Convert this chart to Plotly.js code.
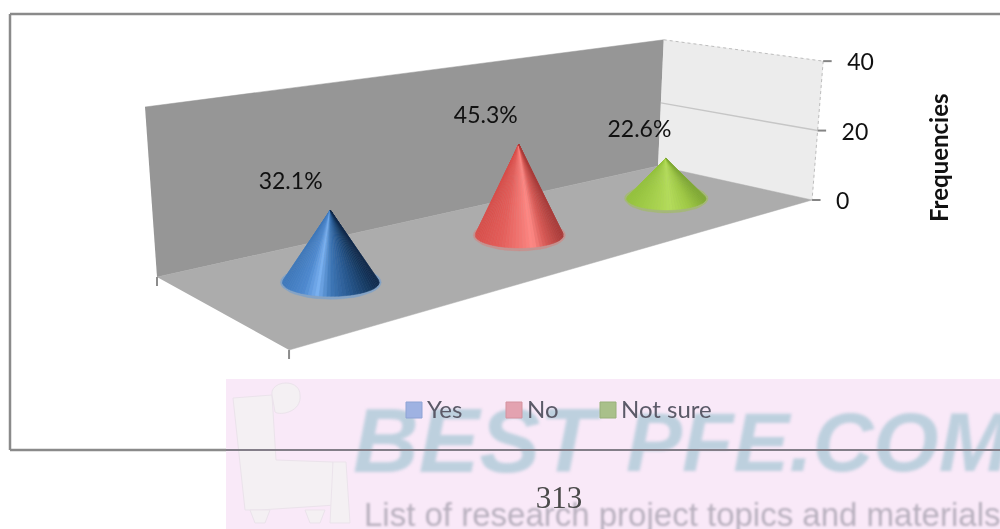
<!DOCTYPE html>
<html><head><meta charset="utf-8">
<script src="https://cdn.plot.ly/plotly-3.0.1.min.js"></script>
<style>html,body{margin:0;padding:0;background:#fff;overflow:hidden}#c{width:1000px;height:529px}</style>
</head><body><div id="c"></div>
<script>
// ---- data ----
const categories = ['Yes', 'No', 'Not sure'];
const frequencies = [17, 24, 12];
const percentLabels = ['32.1%', '45.3%', '22.6%'];
const axisTicks = [0, 20, 40];
const axisTitle = 'Frequencies';
const axisMax = 40;

// ---- styles ----
const FONT = 'Lato, "Open Sans", sans-serif';
const coneStops = [
  [[0,'#3f78ba'],[.22,'#4f8ad0'],[.36,'#79b0f0'],[.5,'#3f78b8'],[.72,'#27568c'],[.9,'#173a62'],[1,'#10294a']],
  [[0,'#d8504c'],[.3,'#e4605c'],[.55,'#f47a76'],[.66,'#ff8a86'],[.8,'#d85a56'],[1,'#a83a38']],
  [[0,'#94c23c'],[.35,'#a8d24e'],[.55,'#b4dc5c'],[.8,'#9ec844'],[1,'#7fa834']]
];
const haloColors = ['rgba(120,160,205,.75)','rgba(215,130,125,.55)','rgba(160,190,90,.6)'];
const legendFill = ['#9fb2e2','#e3a2b0','#a9c08a'];
const legendEdge = ['#8ea3d4','#d4929f','#98b07a'];

// ---- floor perspective fitted to the drawn 3D box: u along categories, w in depth ----
const P = {a:776.2,b:84.3,c:157,d:-41.6,e:15.2,f:277,g:.4182,h:-.1652};
function project(u,w,z){
  const q = P.g*u + P.h*w + 1;
  const x = (P.a*u + P.b*w + P.c)/q, y = (P.d*u + P.e*w + P.f)/q;
  const H = (170 + u*(9-5*w))/q;
  const lean = -12 + (x-157)*.0353;
  const t = z/axisMax;
  return [x + lean*t, y - H*t];
}
function hexMix(stops,t){
  for(let i=1;i<stops.length;i++){
    if(t<=stops[i][0]){
      const [t0,c0]=stops[i-1],[t1,c1]=stops[i];
      const k=(t-t0)/(t1-t0), n=s=>[1,3,5].map(j=>parseInt(s.substr(j,2),16));
      const a=n(c0),b=n(c1);
      return 'rgb('+a.map((v,j)=>Math.round(v+(b[j]-v)*k)).join(',')+')';
    }
  }
  return stops[stops.length-1][1];
}
const traces = [];
function poly(pts,color,line){
  traces.push({type:'scatter',mode:'lines',x:pts.map(p=>p[0]),y:pts.map(p=>p[1]),fill:'toself',fillcolor:color,
    line:line||{color:color,width:.5},hoverinfo:'skip',showlegend:false,cliponaxis:false});
}
function seg(a,b,color,width,dash){
  traces.push({type:'scatter',mode:'lines',x:[a[0],b[0]],y:[a[1],b[1]],line:{color:color,width:width,dash:dash||'solid'},
    hoverinfo:'skip',showlegend:false,cliponaxis:false});
}
function label(x,y,text,size,color,family,pos,extra){
  traces.push(Object.assign({type:'scatter',mode:'text',x:[x],y:[y],text:[text],textposition:pos||'middle center',
    textfont:{size:size,color:color,family:family||FONT},hoverinfo:'skip',showlegend:false,cliponaxis:false},extra||{}));
}

// walls and floor
poly([project(0,0,0),project(1,0,0),project(1,0,axisMax),project(0,0,axisMax)],'#969696');
poly([project(1,0,0),project(1,1,0),project(1,1,axisMax),project(1,0,axisMax)],'#ececec');
poly([project(0,0,0),project(1,0,0),project(1,1,0),project(0,1,0)],'#acacac');
seg(project(1,0,axisMax),project(1,1,axisMax),'#bdbdbd',1,'dot');
seg(project(1,1,axisMax),project(1,1,0),'#bdbdbd',1,'dot');
seg(project(1,0,20),project(1,1,20),'#c6c6c6',1.5);

// axis ticks and labels
axisTicks.forEach(v=>{
  const p=project(1,1,v);
  seg(p,[p[0]+8.5,p[1]],'#858585',2);
  label(p[0]+24,p[1]+3.5,String(v),23,'#111',FONT,'middle right');
});
// floor ticks
[[0,0],[0,1]].forEach(c=>{
  const p=project(c[0],c[1],0);
  seg(p,[p[0],p[1]+9],'#8c8c8c',2);
});

// cones
categories.forEach((cat,i)=>{
  const u=(i+.5)/categories.length;
  const b0=project(u,.5,0), tip=project(u,.5,frequencies[i]);
  const c=[b0[0]-2,b0[1]+1], apex=[b0[0]-2.5,tip[1]+2.5];
  const rx=50.5-13*u, ry=rx*.29;
  const halo=[];
  for(let k=0;k<=40;k++){const a=k/40*2*Math.PI;halo.push([c[0]+(rx+2)*Math.cos(a),c[1]+(ry+3)*Math.sin(a)]);}
  poly(halo,haloColors[i]);
  const N=44, A0=Math.PI+.22, A1=-.22;
  for(let k=0;k<N;k++){
    const a=A0+(A1-A0)*k/N, b=A0+(A1-A0)*(k+1)/N;
    const pa=[c[0]+rx*Math.cos(a),c[1]+ry*Math.sin(a)], pb=[c[0]+rx*Math.cos(b),c[1]+ry*Math.sin(b)];
    const t=((pa[0]+pb[0])/2-(c[0]-rx))/(2*rx);
    poly([apex,pa,pb,apex],hexMix(coneStops[i],Math.min(1,Math.max(0,t))));
  }
  label(apex[0]-(43-20*u),apex[1]-27,percentLabels[i],23,'#111');
});

// watermark
const wmStart=traces.length;
const wmFont=(s)=>({size:s,color:'#bdd0de',family:'"Liberation Sans", sans-serif',style:'italic',weight:700});
label(353,449,'BEST',91,'#bdd0de',null,'middle right',{textfont:wmFont(91)});
label(626,450,'PFE.COM',84,'#bdd0de',null,'middle right',{textfont:wmFont(84)});
const wmEnd=traces.length;
label(364,518,'List of research project topics and materials',33,'#b8b0be','"Liberation Sans", sans-serif','middle right');

// chart border over the pink band
seg([10,450],[10,14],'#8a8a8a',2.5);
seg([10,14],[1000,14],'#8a8a8a',2.5);
seg([10,450],[226,450],'#8a8a8a',2.5);
seg([226,450],[1000,450],'#837e88',2);

// legend
const legendX=[414,514,608];
categories.forEach((cat,i)=>{
  traces.push({type:'scatter',mode:'markers',x:[legendX[i]],y:[410],marker:{symbol:'square',size:16,color:legendFill[i],line:{color:legendEdge[i],width:1}},
    hoverinfo:'skip',showlegend:false,cliponaxis:false});
  label(legendX[i]+13,412,cat,24,'#5b5a68',FONT,'middle right');
});
label(559,500,'313',31,'#4a4a4a','"Liberation Serif", serif');

const chair=[
 'M233,398 L272,395 L276,460 L333,462 L336,505 L260,510 L245,510 Z',
 'M333,462 L346,462 L350,523 L330,523 Z',
 'M272,395 C270,380 300,378 300,395 C302,412 280,416 275,412 Z',
 'M250,510 L270,510 L265,523 L255,523 Z','M305,510 L325,510 L320,523 L310,523 Z'
];
const layout={
  width:1000,height:529,margin:{l:0,r:0,t:0,b:0},paper_bgcolor:'#fff',plot_bgcolor:'#fff',showlegend:false,
  xaxis:{range:[0,1000],visible:false,fixedrange:true},
  yaxis:{range:[529,0],visible:false,fixedrange:true},
  shapes:[{type:'rect',xref:'x',yref:'y',x0:226,x1:1000,y0:379,y1:529,fillcolor:'#f9e9f8',line:{width:0},layer:'below'}]
    .concat(chair.map(p=>({type:'path',xref:'x',yref:'y',path:p,fillcolor:'#f4f0f3',line:{color:'#ebe3eb',width:1},layer:'below'}))),
  annotations:[{x:938,y:158,xref:'x',yref:'y',text:'<b>'+axisTitle+'</b>',textangle:-90,showarrow:false,font:{size:24,color:'#111',family:FONT}}]
};
Plotly.newPlot('c',traces,layout,{staticPlot:true,displayModeBar:false}).then(gd=>{
  const ts=document.querySelectorAll('#c .scatterlayer .trace');
  for(let i=wmStart;i<wmEnd+1;i++){ if(ts[i]) ts[i].style.filter='blur('+(i<wmEnd?1.8:.8)+'px)'; }
  document.querySelectorAll('#c .main-svg').forEach(s=>{s.style.filter='blur(.4px)';});
});
</script></body></html>
